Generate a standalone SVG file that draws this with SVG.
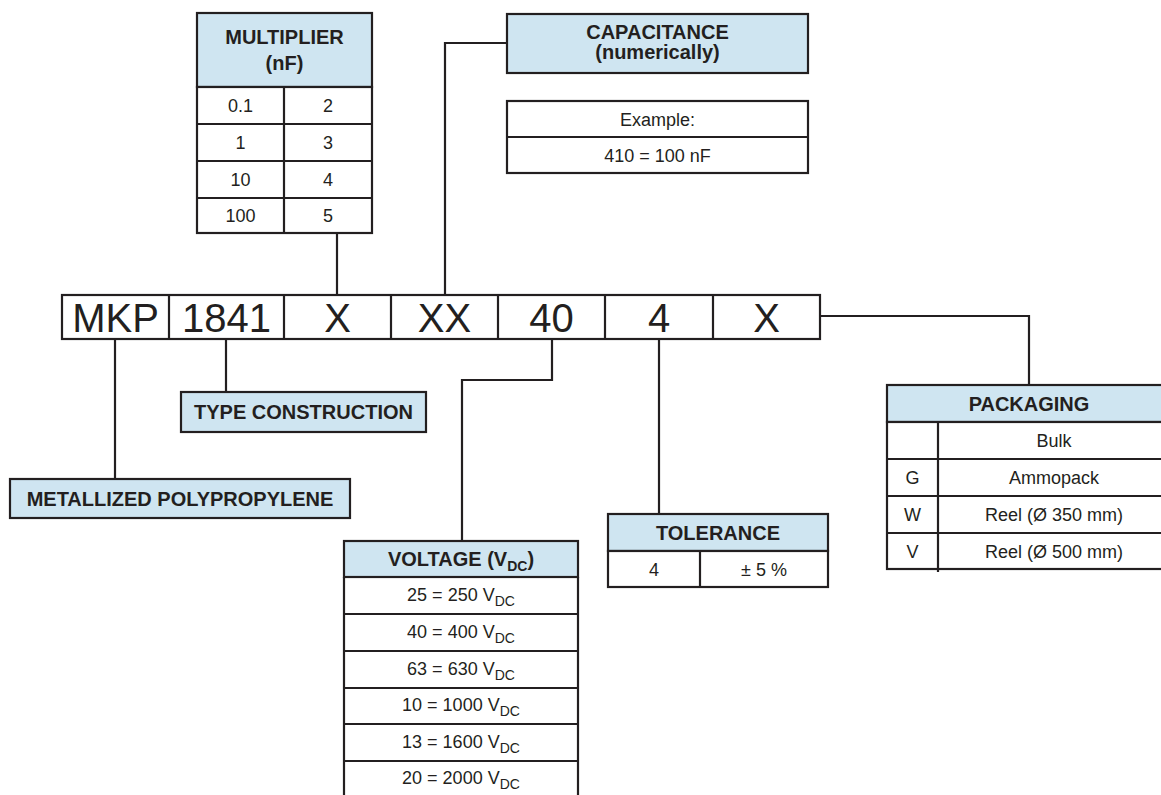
<svg xmlns="http://www.w3.org/2000/svg" width="1161" height="795" viewBox="0 0 1161 795">
<style>
.box{fill:#fff;stroke:#231f20;stroke-width:2.2}
.hdr{fill:#cfe5f1;stroke:#231f20;stroke-width:2.2}
.ln{fill:none;stroke:#231f20;stroke-width:2.2}
text{font-family:"Liberation Sans",Arial,sans-serif;fill:#231f20;text-anchor:middle}
.b{font-weight:bold;font-size:20px}
.r{font-size:18px}
.big{font-size:40px}
.sub{font-size:14px}
</style>
<rect width="1161" height="795" fill="#fff"/>
<g id="connectors">
<path class="ln" d="M337 233V295"/>
<path class="ln" d="M507 43H445V295"/>
<path class="ln" d="M115 339V479"/>
<path class="ln" d="M226 339V392"/>
<path class="ln" d="M552 339V380H462V541"/>
<path class="ln" d="M659 339V514"/>
<path class="ln" d="M820 316H1029V385"/>
</g>
<g id="code">
<rect class="box" x="62" y="295" width="758" height="44"/>
<path class="ln" d="M169 295V339M284 295V339M391 295V339M498 295V339M605 295V339M713 295V339"/>
<text class="big" x="115.5" y="332">MKP</text>
<text class="big" x="226.5" y="332">1841</text>
<text class="big" x="337.5" y="332">X</text>
<text class="big" x="444.5" y="332">XX</text>
<text class="big" x="551.5" y="332">40</text>
<text class="big" x="659" y="332">4</text>
<text class="big" x="766.5" y="332">X</text>
</g>
<g id="multiplier">
<rect class="hdr" x="197" y="13" width="175" height="74"/>
<rect class="box" x="197" y="87" width="175" height="146"/>
<path class="ln" d="M197 124H372M197 161H372M197 198H372M284 87V233"/>
<text class="b" x="284.5" y="44">MULTIPLIER</text>
<text class="b" x="284.5" y="70">(nF)</text>
<text class="r" x="240.5" y="111.5">0.1</text><text class="r" x="328" y="111.5">2</text>
<text class="r" x="240.5" y="148.5">1</text><text class="r" x="328" y="148.5">3</text>
<text class="r" x="240.5" y="185.5">10</text><text class="r" x="328" y="185.5">4</text>
<text class="r" x="240.5" y="222">100</text><text class="r" x="328" y="222">5</text>
</g>
<g id="capacitance">
<rect class="hdr" x="507" y="14" width="301" height="59"/>
<text class="b" x="657.5" y="39">CAPACITANCE</text>
<text class="b" x="657.5" y="59">(numerically)</text>
</g>
<g id="example">
<rect class="box" x="507" y="101" width="301" height="72"/>
<path class="ln" d="M507 137H808"/>
<text class="r" x="657.5" y="125.5">Example:</text>
<text class="r" x="657.5" y="161.5">410 = 100 nF</text>
</g>
<g id="type-construction">
<rect class="hdr" x="181" y="392" width="245" height="40"/>
<text class="b" x="303.5" y="419">TYPE CONSTRUCTION</text>
</g>
<g id="metallized">
<rect class="hdr" x="10" y="479" width="340" height="39"/>
<text class="b" x="180" y="505.5">METALLIZED POLYPROPYLENE</text>
</g>
<g id="voltage">
<rect class="hdr" x="344" y="541" width="234" height="36"/>
<path class="ln" d="M344 577V800M578 577V800M344 577H578M344 614H578M344 651H578M344 688H578M344 724H578M344 761H578"/>
<text class="b" x="461" y="566">VOLTAGE (V<tspan class="sub" font-weight="bold" dy="5">DC</tspan><tspan dy="-5">)</tspan></text>
<text class="r" x="461" y="601">25 = 250 V<tspan class="sub" dy="5">DC</tspan></text>
<text class="r" x="461" y="638">40 = 400 V<tspan class="sub" dy="5">DC</tspan></text>
<text class="r" x="461" y="675">63 = 630 V<tspan class="sub" dy="5">DC</tspan></text>
<text class="r" x="461" y="711">10 = 1000 V<tspan class="sub" dy="5">DC</tspan></text>
<text class="r" x="461" y="748">13 = 1600 V<tspan class="sub" dy="5">DC</tspan></text>
<text class="r" x="461" y="784">20 = 2000 V<tspan class="sub" dy="5">DC</tspan></text>
</g>
<g id="tolerance">
<rect class="hdr" x="608" y="514" width="220" height="37"/>
<rect class="box" x="608" y="551" width="220" height="36"/>
<path class="ln" d="M700 551V587"/>
<text class="b" x="718" y="539.5">TOLERANCE</text>
<text class="r" x="654" y="575.5">4</text>
<text class="r" x="764" y="575.5">± 5 %</text>
</g>
<g id="packaging">
<rect class="hdr" x="887" y="385" width="290" height="37"/>
<rect class="box" x="887" y="422" width="290" height="147"/>
<path class="ln" d="M887 459H1177M887 496H1177M887 533H1177M938 422V572"/>
<text class="b" x="1029" y="410.5">PACKAGING</text>
<text class="r" x="1054" y="447">Bulk</text>
<text class="r" x="912.5" y="484">G</text><text class="r" x="1054" y="484">Ammopack</text>
<text class="r" x="912.5" y="521">W</text><text class="r" x="1054" y="521">Reel (Ø 350 mm)</text>
<text class="r" x="912.5" y="557.5">V</text><text class="r" x="1054" y="557.5">Reel (Ø 500 mm)</text>
</g>
</svg>
